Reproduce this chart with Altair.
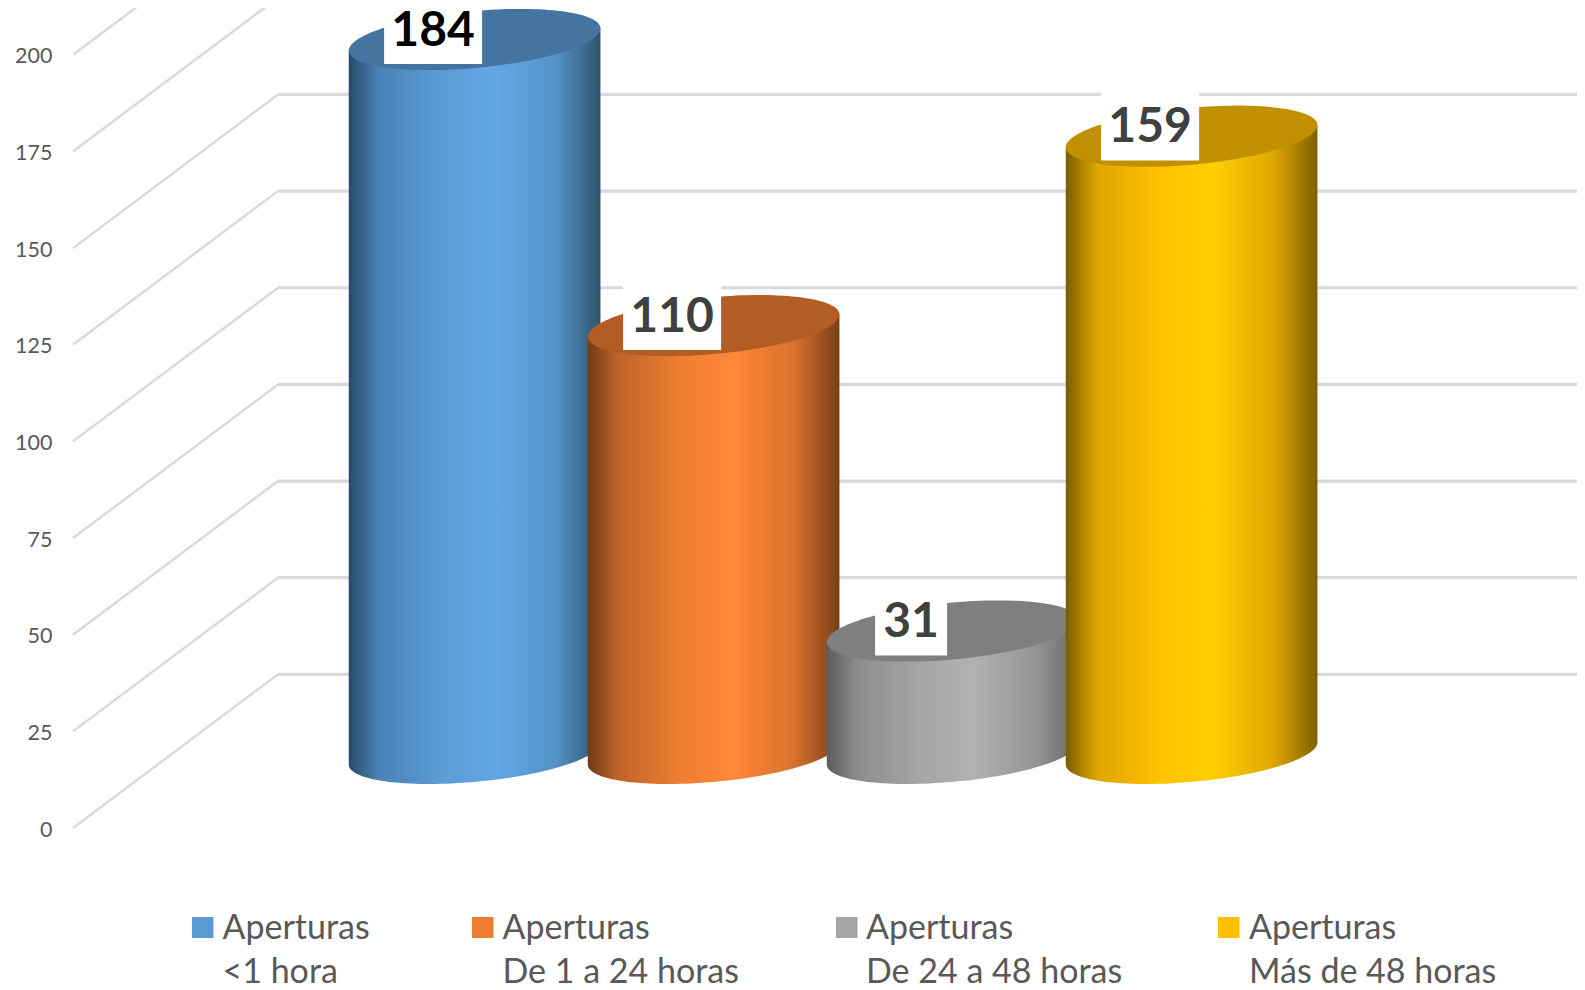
import math
import altair as alt
import pandas as pd

# ---- chart values ----
categories = ["<1 hora", "De 1 a 24 horas", "De 24 a 48 horas", "Más de 48 horas"]
legend_heading = "Aperturas"
values = [184, 110, 31, 159]
top_colors = ["#44749f", "#b35c24", "#7f7f7f", "#c09000"]
swatch_colors = ["#5b9bd5", "#ed7d31", "#a5a5a5", "#ffc000"]
label_colors = ["#000000", "#404040", "#404040", "#404040"]
gradients = [
    ["#264a6b", "#4a83b5", "#5b9bd5", "#63a7e6", "#5593c9", "#2e5470"],
    ["#6f3a14", "#bd6429", "#ed7d31", "#ff8838", "#d8722d", "#7a3f16"],
    ["#5c5c5c", "#8c8c8c", "#a5a5a5", "#b1b1b1", "#969696", "#6a6a6a"],
    ["#7a5c00", "#dca500", "#ffc000", "#ffcf00", "#e0a800", "#7f6000"],
]
gradient_offsets = [0, 0.12, 0.36, 0.58, 0.82, 1]
tick_values = [0, 25, 50, 75, 100, 125, 150, 175, 200]
legend_swatch_left = [192, 472, 836, 1218]
legend_text_left = [222.5, 502.5, 866, 1249]

# ---- scales of the drawing (screen pixels of the 1585x990 picture) ----
CX0, PITCH = 474.6, 239.0
Y0, PER_UNIT = 828.0, 3.866
W, H = 1569, 982
x_domain = [(8 - CX0) / PITCH, (8 + W - CX0) / PITCH]
y_domain = [(Y0 - 8 - H) / PER_UNIT, (Y0 - 8) / PER_UNIT]

y_axis = alt.Axis(values=tick_values, orient="left", offset=-44, domain=False, ticks=False,
                  grid=False, title=None, labelPadding=0, labelFont="Lato", labelFontSize=21.5,
                  labelColor="#595959", labelFlush=False, labelOverlap=False, labelOffset=2)


def ux(px):
    return (px - CX0) / PITCH


def uy(py):
    return (Y0 - py) / PER_UNIT


def X(f="x"):
    return alt.X(f"{f}:Q", scale=alt.Scale(domain=x_domain, nice=False, zero=False), axis=None)


def Y(f="y"):
    return alt.Y(f"{f}:Q", scale=alt.Scale(domain=y_domain, nice=False, zero=False),
                 axis=y_axis, stack=None)


# ---- 3D geometry ----
HALF = 249.0 * 1.0108 / 2 / PITCH       # cylinder half width
TILT = 11.0 / 3.825                     # ellipse tilt
MINOR = 28.2 / 3.825                    # ellipse half height
LIFT = 19.3                             # floor of the cylinders
CAP_LIFT = 19.95                        # centre of the top ellipse above the value
DEPTH = 39.74                           # wall depth, in value units
FRONT_X, BACK_X = ux(73), ux(278)
STEPS = [math.cos(math.pi * k / 70) for k in range(71)][::-1]

grid = alt.Chart(pd.DataFrame(
    [{"x": FRONT_X, "y": v, "g": v} for v in tick_values]
    + [{"x": BACK_X, "y": v + DEPTH, "g": v} for v in tick_values]
)).mark_line(color="#d9d9d9", strokeWidth=2.4, clip=True).encode(x=X(), y=Y(), detail="g:N")

wall = alt.Chart(pd.DataFrame(
    [{"x": BACK_X, "y": v + DEPTH, "g": v} for v in tick_values[:7]]
    + [{"x": x_domain[1], "y": v + DEPTH, "g": v} for v in tick_values[:7]]
)).mark_line(color="#d9d9d9", strokeWidth=3.2).encode(x=X(), y=Y(), detail="g:N")

layers = [grid, wall]

for i, v in enumerate(values):
    top = v + CAP_LIFT
    body_rows, cap_rows = [], []
    for u in STEPS:
        x = i + u * HALF
        r = MINOR * math.sqrt(max(0.0, 1 - u * u))
        body_rows.append({"x": x, "y": top + TILT * u, "y2": LIFT + TILT * u - r})
        cap_rows.append({"x": x, "y": top + TILT * u + r, "y2": top + TILT * u - r})
    stops = [alt.GradientStop(offset=o, color=c) for o, c in zip(gradient_offsets, gradients[i])]
    layers.append(
        alt.Chart(pd.DataFrame(body_rows)).mark_area(
            color=alt.Gradient(gradient="linear", x1=0, x2=1, y1=0, y2=0, stops=stops)
        ).encode(x=X(), y=Y(), y2="y2:Q")
    )
    layers.append(
        alt.Chart(pd.DataFrame(cap_rows)).mark_area(color=top_colors[i]).encode(x=X(), y=Y(), y2="y2:Q")
    )

label_rows = []
for i, v in enumerate(values):
    half = 49.0 / PITCH if v >= 100 else 36.0 / PITCH
    cx = i - 41.5 / PITCH
    top = v + CAP_LIFT
    label_rows.append({"x": cx - half, "x2": cx + half, "y": top - 6.3, "y2": top + 12.0,
                       "tx": cx, "ty": top + 2.0, "t": str(v), "c": label_colors[i]})
labels = pd.DataFrame(label_rows)
layers.append(alt.Chart(labels).mark_rect(color="white").encode(
    x=X(), x2="x2:Q", y=Y(), y2="y2:Q"))
layers.append(alt.Chart(labels).mark_text(
    font="Lato", fontWeight="bold", fontSize=48, align="center", baseline="middle"
).encode(x=X("tx"), y=Y("ty"), text="t:N", color=alt.Color("c:N", scale=None)))

# ---- legend ----
swatch_rows, text_rows = [], []
for i, cat in enumerate(categories):
    swatch_rows.append({"x": ux(legend_swatch_left[i]), "x2": ux(legend_swatch_left[i] + 21.5),
                        "y": uy(917), "y2": uy(938), "c": swatch_colors[i]})
    text_rows.append({"x": ux(legend_text_left[i]), "y": uy(929), "t": legend_heading})
    text_rows.append({"x": ux(legend_text_left[i]), "y": uy(973), "t": cat})
layers.append(alt.Chart(pd.DataFrame(swatch_rows)).mark_rect().encode(
    x=X(), x2="x2:Q", y=Y(), y2="y2:Q", color=alt.Color("c:N", scale=None)))
layers.append(alt.Chart(pd.DataFrame(text_rows)).mark_text(
    font="Lato", fontSize=34, align="left", baseline="middle", color="#595959"
).encode(x=X(), y=Y(), text="t:N"))

chart = alt.layer(*layers).properties(
    width=W, height=H, padding=0, background="white",
    autosize=alt.AutoSizeParams(type="none"),
).configure_view(stroke=None)

chart.save("out.html", embed_options={"renderer": "svg", "actions": False})
